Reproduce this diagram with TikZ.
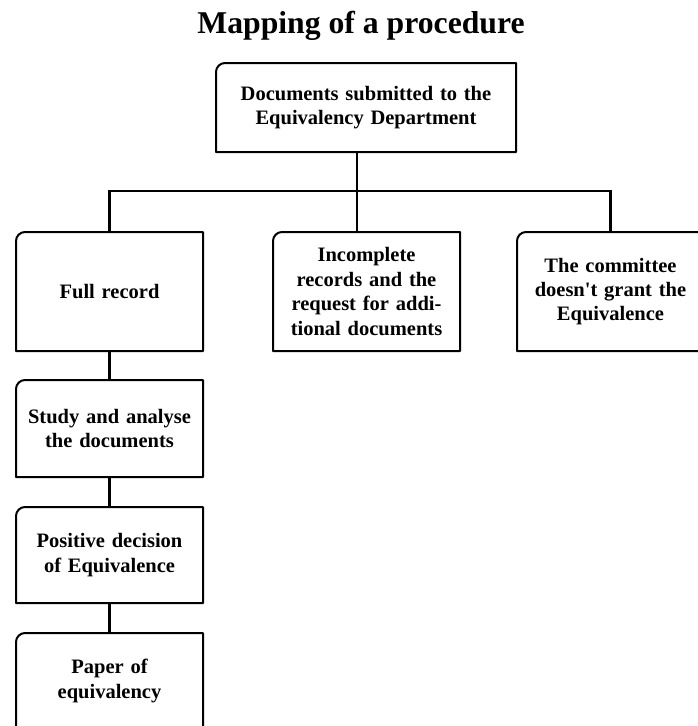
\documentclass[tikz,border=0pt]{standalone}
\usepackage{fontspec}
\newfontfamily\titlefont{Liberation Serif}
\usetikzlibrary{calc, positioning}
\tikzset{
	boxnode/.style={inner sep=0pt, outer sep=0pt, minimum width=187pt, text width=184pt, align=center,
		font=\titlefont\fontsize{20.5}{24.4}\selectfont\bfseries},
	boxline/.style={line width=2pt, line join=round},
	linkline/.style={line width=2.2pt}
}
\begin{document}
\begin{tikzpicture}[x=1pt, y=1pt, node distance=30pt]
			\newcommand{\myfonttitle}[1]{
				\titlefont\bfseries\fontsize{31.7}{36}\selectfont{#1}
			}%Page frame
			\fill [white] (0,0) rectangle (697,-726);
			\useasboundingbox (0,0) rectangle (697,-726);
			%Title
			\node (title) [anchor=base] at (361,-33) {\myfonttitle{Mapping of a procedure}};
			%Top box
			\node (top) [boxnode, minimum width=300pt, text width=290pt, minimum height=89pt] at (366,-107.5) {Documents submitted to the\\Equivalency Department};
			%Second row
			\node (full) [boxnode, minimum height=119pt] at (109.5,-291.5) {Full record};
			\node (req) [boxnode, minimum height=119pt] at (366.5,-291.5) {Incomplete\\records and the\\request for addi-\\tional documents};
			\node (deny) [boxnode, minimum height=119pt] at (610.5,-291.5) {The committee\\doesn\textquotesingle t grant the\\Equivalence};
			%Left column going down
			\node (study) [boxnode, minimum height=97pt, below=29pt of full] {Study and analyse\\the documents};
			\node (posit) [boxnode, minimum height=96pt, below=of study] {Positive decision\\of Equivalence};
			\node (paper) [boxnode, minimum height=96pt, below=of posit] {Paper of\\equivalency};
			%Outlines, only the top left corner is rounded
			\foreach \n in {top,full,req,deny,study,posit,paper} {
				\draw [boxline] (\n.south west) -- ([yshift=-9pt]\n.north west) arc[start angle=180, end angle=90, radius=9pt] -- (\n.north east) -- (\n.south east) -- cycle;
			}
			%Connectors
			\coordinate (hub) at (357,-191);
			\draw [linkline] (hub |- top.south) -- (hub);
			\draw [linkline] (full.north) |- (hub) -| (deny.north);
			\draw [linkline] (hub) -- (hub |- req.north);
			\draw [linkline] (full) -- (study);
			\draw [linkline] (study) -- (posit);
			\draw [linkline] (posit) -- (paper);
\end{tikzpicture}
\end{document}
